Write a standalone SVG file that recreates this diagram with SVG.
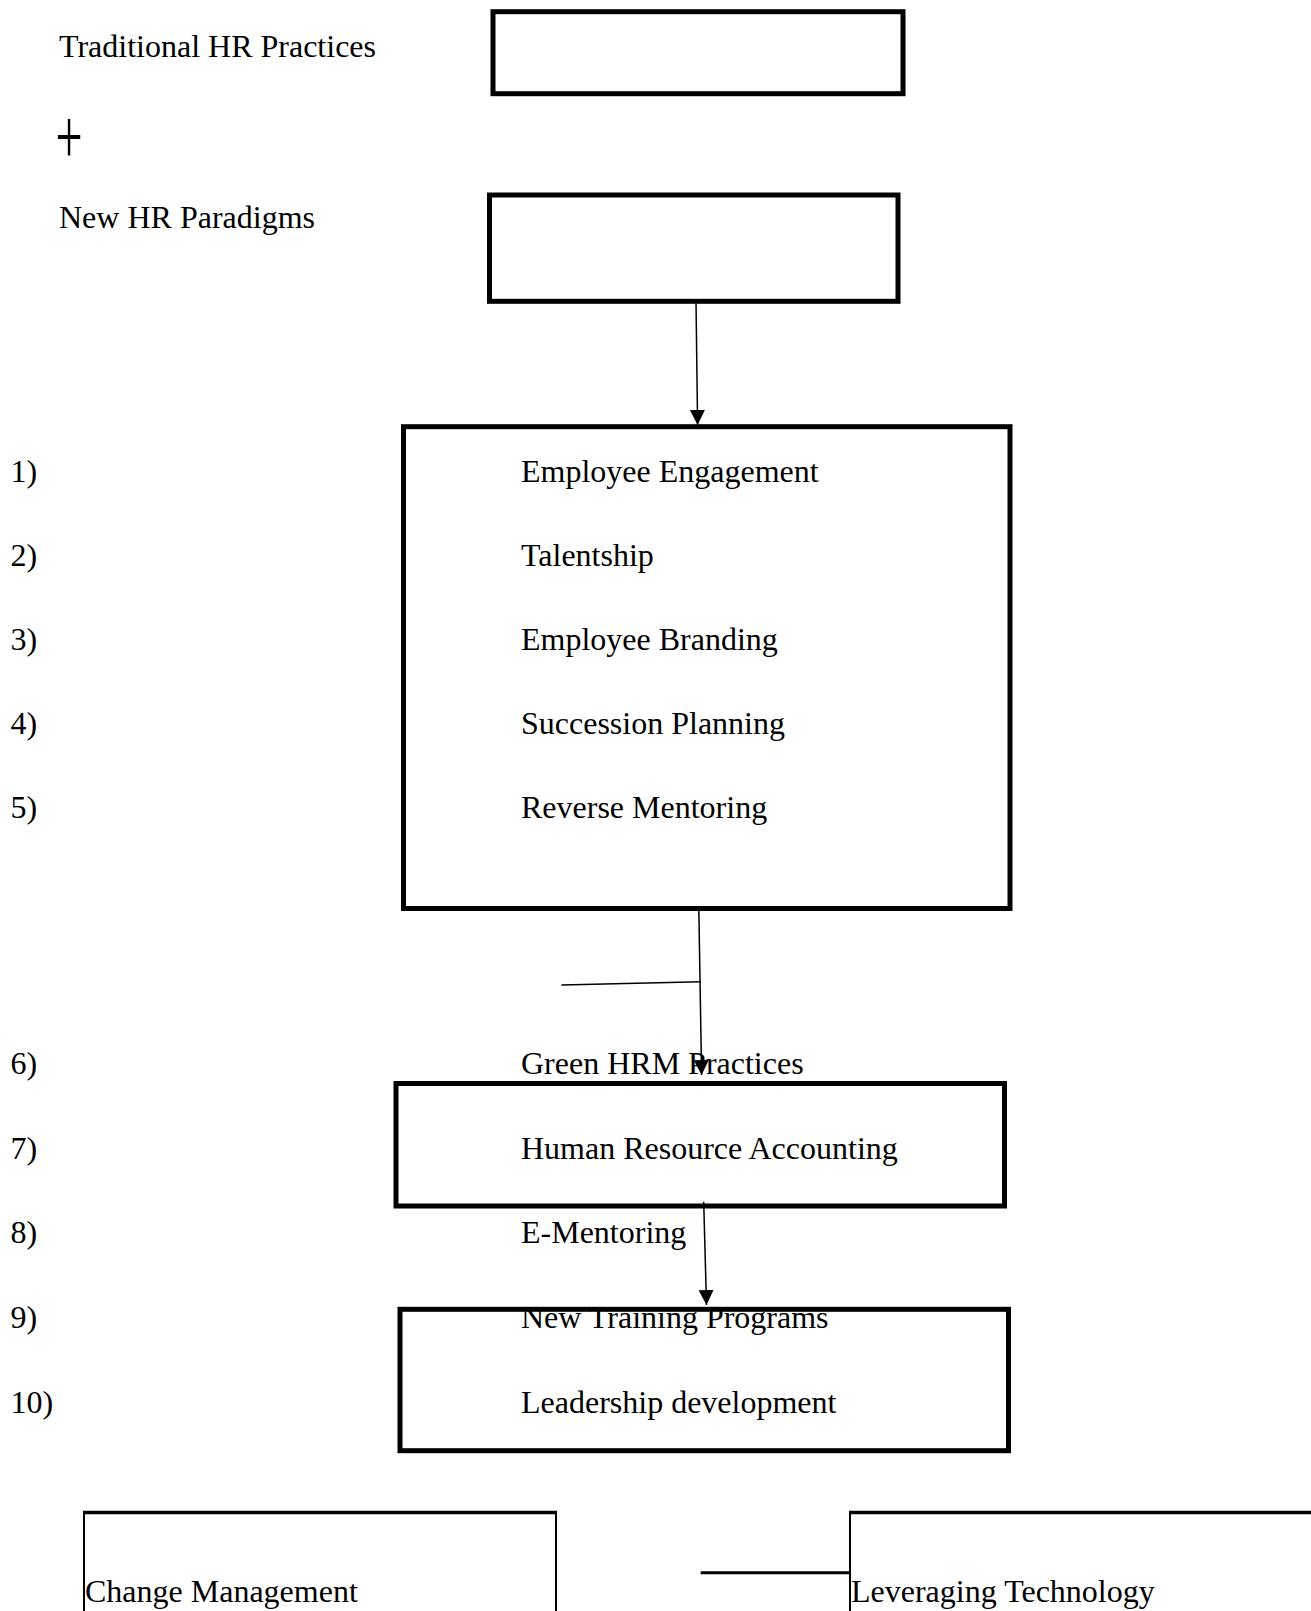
<svg xmlns="http://www.w3.org/2000/svg" width="1311" height="1611" viewBox="0 0 1311 1611">
  <style>
    text { font-family: "Liberation Serif", "Times New Roman", serif; font-size: 32px; fill: #000; }
    .box { fill: none; stroke: #000; stroke-width: 5; }
    .obox { fill: none; stroke: #000; stroke-width: 2; }
    .otop { stroke: #000; stroke-width: 3.5; }
    .conn { stroke: #000; stroke-width: 1.5; fill: none; }
  </style>
  <defs>
    <marker id="arrow" markerUnits="userSpaceOnUse" markerWidth="15" markerHeight="16" refX="15" refY="7.5" orient="auto">
      <path d="M0,0 L15,7.5 L0,15 Z" fill="#000"/>
    </marker>
  </defs>
  <rect width="1311" height="1611" fill="#fff"/>

  <g id="labels">
    <text x="59" y="57">Traditional HR Practices</text>
    <text transform="translate(69,143) scale(1,1.65)" x="0" y="12" text-anchor="middle" style="font-size:48px">+</text>
    <text x="59" y="228">New HR Paradigms</text>
    <text x="10.5" y="482">1)</text>
    <text x="10.5" y="566">2)</text>
    <text x="10.5" y="650">3)</text>
    <text x="10.5" y="734">4)</text>
    <text x="10.5" y="818">5)</text>
    <text x="10.5" y="1073.5">6)</text>
    <text x="10.5" y="1158.5">7)</text>
    <text x="10.5" y="1243">8)</text>
    <text x="10.5" y="1328">9)</text>
    <text x="10.5" y="1412.5">10)</text>
  </g>

  <g id="node-traditional">
    <rect class="box" x="493" y="11.7" width="410" height="82"/>
  </g>
  <g id="node-paradigms">
    <rect class="box" x="489.5" y="195" width="408.5" height="106.3"/>
  </g>
  <g id="node-list">
    <rect class="box" x="403.5" y="426.7" width="606.5" height="481.8"/>
    <text x="521" y="482">Employee Engagement</text>
    <text x="521" y="566">Talentship</text>
    <text x="521" y="650">Employee Branding</text>
    <text x="521" y="734">Succession Planning</text>
    <text x="521" y="818">Reverse Mentoring</text>
  </g>
  <g id="node-green">
    <text x="521" y="1073.5">Green HRM Practices</text>
  </g>
  <g id="node-hra">
    <rect class="box" x="396" y="1083.5" width="608.5" height="122.5"/>
    <text x="521" y="1158.5">Human Resource Accounting</text>
  </g>
  <g id="node-ementoring">
    <text x="521" y="1243">E-Mentoring</text>
  </g>
  <g id="node-training">
    <text x="521" y="1328">New Training Programs</text>
    <rect class="box" x="400" y="1309.3" width="608.5" height="141.4"/>
    <text x="521" y="1412.5">Leadership development</text>
  </g>
  <g id="node-change">
    <path class="obox" d="M84,1611 L84,1512.5 L556,1512.5 L556,1611"/>
    <line class="otop" x1="83" y1="1512.5" x2="557" y2="1512.5"/>
    <text x="85" y="1601.5">Change Management</text>
  </g>
  <g id="node-tech">
    <path class="obox" d="M850,1611 L850,1512.5 L1311,1512.5"/>
    <line class="otop" x1="849" y1="1512.5" x2="1311" y2="1512.5"/>
    <text x="851" y="1601.5">Leveraging Technology</text>
  </g>

  <g id="connectors">
    <line class="conn" x1="696" y1="301" x2="697.6" y2="425" marker-end="url(#arrow)"/>
    <line class="conn" x1="698.8" y1="908" x2="701.6" y2="1075" marker-end="url(#arrow)"/>
    <line class="conn" x1="561.4" y1="985" x2="700.8" y2="981.7"/>
    <line class="conn" x1="703.7" y1="1201.7" x2="706.5" y2="1305" marker-end="url(#arrow)"/>
    <line x1="700.7" y1="1572.7" x2="850" y2="1572.7" stroke="#000" stroke-width="3"/>
  </g>
</svg>
